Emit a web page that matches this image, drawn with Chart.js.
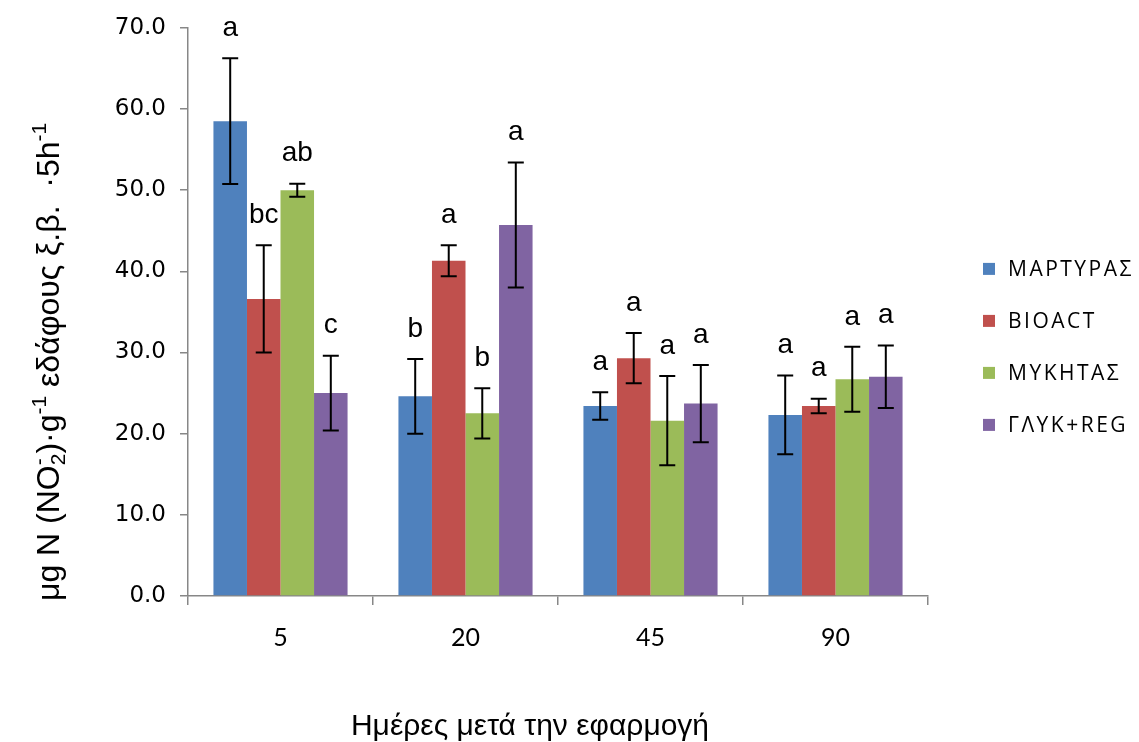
<!DOCTYPE html>
<html>
<head>
<meta charset="utf-8">
<script src="https://cdn.jsdelivr.net/npm/chart.js@4.4.1/dist/chart.umd.min.js"></script>
<style>
  html, body { margin: 0; padding: 0; background: #ffffff; }
  #wrap { width: 1139px; height: 742px; }
</style>
</head>
<body>
<div id="wrap"><canvas id="chart" width="1139" height="742"></canvas></div>
<script>
// Days after application (categories)
const days = ['5', '20', '45', '90'];

// Treatment names
const seriesNames = ['ΜΑΡΤΥΡΑΣ', 'BIOACT', 'ΜΥΚΗΤΑΣ', 'ΓΛΥΚ+REG'];

// Mean values, μg N (NO2-) per g soil dry weight per 5 h
const martyras = [58.5, 24.6, 23.4, 22.3];
const bioact   = [36.6, 41.3, 29.3, 23.4];
const mykitas  = [50.0, 22.5, 21.6, 26.7];
const glyk     = [25.0, 45.7, 23.7, 27.0];

// Error bar half-lengths
const martyrasErr = [7.75, 4.6, 1.7, 4.85];
const bioactErr   = [6.6, 1.9, 3.1, 0.9];
const mykitasErr  = [0.8, 3.1, 5.5, 4.0];
const glykErr     = [4.6, 7.7, 4.75, 3.85];

// Significance letters
const martyrasSig = ['a', 'b', 'a', 'a'];
const bioactSig   = ['bc', 'a', 'a', 'a'];
const mykitasSig  = ['ab', 'b', 'a', 'a'];
const glykSig     = ['c', 'a', 'a', 'a'];

// Y axis ticks
const yMin = 0, yMax = 70, yStep = 10;

// Axis titles
const xTitle = 'Ημέρες μετά την εφαρμογή';

const colors = ['#4F81BD', '#C0504D', '#9BBB59', '#8064A2'];
const axisGray = '#878787';

const values = [martyras, bioact, mykitas, glyk];
const errors = [martyrasErr, bioactErr, mykitasErr, glykErr];
const letters = [martyrasSig, bioactSig, mykitasSig, glykSig];

// Error bars and letters above each bar
const errorBarPlugin = {
  id: 'errorBars',
  afterDatasetsDraw(chart) {
    const ctx = chart.ctx;
    const y = chart.scales.y;
    ctx.save();
    chart.data.datasets.forEach((ds, i) => {
      const meta = chart.getDatasetMeta(i);
      meta.data.forEach((bar, j) => {
        const v = ds.data[j];
        const e = ds.errors[j];
        const top = y.getPixelForValue(v + e);
        const bot = y.getPixelForValue(v - e);
        const x = bar.x;
        ctx.strokeStyle = '#000000';
        ctx.lineWidth = 2;
        ctx.beginPath();
        ctx.moveTo(x, top); ctx.lineTo(x, bot);
        ctx.moveTo(x - 8, top); ctx.lineTo(x + 8, top);
        ctx.moveTo(x - 8, bot); ctx.lineTo(x + 8, bot);
        ctx.stroke();
        ctx.fillStyle = '#000000';
        ctx.font = '28px "Liberation Sans", Arial, sans-serif';
        ctx.textAlign = 'center';
        ctx.textBaseline = 'middle';
        ctx.fillText(ds.letters[j], x, top - 30);
      });
    });
    ctx.restore();
  }
};

// Axis titles: rotated y title with sub- and superscripts, x title below the ticks
const axisTitlePlugin = {
  id: 'axisTitles',
  afterDraw(chart) {
    const ctx = chart.ctx;
    const area = chart.chartArea;
    const size = 32;
    const base = size + 'px "Liberation Sans", Arial, sans-serif';
    const small = Math.round(size * 0.65) + 'px "Liberation Sans", Arial, sans-serif';
    const parts = [
      { t: 'μg N (NO' },
      { t: '2', sub: true, stackWith: '-' },
      { t: ')·g' },
      { t: '-1', sup: true },
      { t: ' εδάφους ξ.β.  ·5h' },
      { t: '-1', sup: true }
    ];
    ctx.save();
    const widthOf = p => {
      ctx.font = (p.sub || p.sup) ? small : base;
      let w = ctx.measureText(p.t).width;
      if (p.stackWith) w = Math.max(w, ctx.measureText(p.stackWith).width);
      return w;
    };
    const total = parts.reduce((s, p) => s + widthOf(p), 0);
    const cy = (area.top + area.bottom) / 2 + 50;
    ctx.translate(47, cy);
    ctx.rotate(-Math.PI / 2);
    ctx.fillStyle = '#000000';
    ctx.textBaseline = 'alphabetic';
    ctx.textAlign = 'left';
    let x = -total / 2;
    const baseY = size * 0.36;
    parts.forEach(p => {
      const w = widthOf(p);
      if (p.sub) {
        ctx.font = small;
        ctx.fillText(p.t, x, baseY + size * 0.2);
        if (p.stackWith) ctx.fillText(p.stackWith, x, baseY - size * 0.38);
      } else if (p.sup) {
        ctx.font = small;
        ctx.fillText(p.t, x, baseY - size * 0.38);
      } else {
        ctx.font = base;
        ctx.fillText(p.t, x, baseY);
      }
      x += w;
    });
    ctx.restore();

    ctx.save();
    ctx.font = '30px "Liberation Sans", Arial, sans-serif';
    ctx.fillStyle = '#000000';
    ctx.textAlign = 'center';
    ctx.textBaseline = 'middle';
    ctx.fillText(xTitle, (area.left + area.right) / 2 - 28, area.bottom + 131);
    ctx.restore();
  }
};

// Legend to the right of the plot
const sideLegendPlugin = {
  id: 'sideLegend',
  afterDraw(chart) {
    const ctx = chart.ctx;
    const area = chart.chartArea;
    const cx = area.right + 55;
    const midY = (area.top + area.bottom) / 2 + 35;
    const rowGap = 52;
    ctx.save();
    ctx.font = '21px "Open Sans", "DejaVu Sans", sans-serif';
    if ('letterSpacing' in ctx) ctx.letterSpacing = '2.5px';
    ctx.textBaseline = 'middle';
    ctx.textAlign = 'left';
    const n = chart.data.datasets.length;
    chart.data.datasets.forEach((ds, i) => {
      const yy = midY + (i - (n - 1) / 2) * rowGap;
      ctx.fillStyle = ds.backgroundColor;
      ctx.fillRect(cx, yy - 6, 12, 12);
      ctx.fillStyle = '#000000';
      ctx.fillText(ds.label, cx + 25, yy + 1);
    });
    ctx.restore();
  }
};

Chart.defaults.font.family = '"Liberation Sans", Arial, sans-serif';
Chart.defaults.color = '#000000';

new Chart(document.getElementById('chart'), {
  type: 'bar',
  data: {
    labels: days,
    datasets: seriesNames.map((name, i) => ({
      label: name,
      data: values[i],
      errors: errors[i],
      letters: letters[i],
      backgroundColor: colors[i],
      borderWidth: 0,
      categoryPercentage: 0.725,
      barPercentage: 1.0
    }))
  },
  options: {
    responsive: false,
    devicePixelRatio: 1,
    animation: false,
    layout: { padding: { left: 0, right: 211, top: 25, bottom: 89 } },
    plugins: {
      legend: { display: false },
      tooltip: { enabled: false }
    },
    scales: {
      x: {
        afterFit(scale) { scale.height = 57; },
        grid: {
          offset: true,
          drawOnChartArea: false,
          drawTicks: true,
          tickLength: 9,
          color: axisGray,
          lineWidth: 1.5
        },
        border: { display: true, color: axisGray, width: 1.5 },
        ticks: {
          font: { family: 'Lato, "Open Sans", sans-serif', size: 25 },
          color: '#000000',
          padding: 18
        }
      },
      y: {
        min: yMin,
        max: yMax,
        afterFit(scale) { scale.width = 188; },
        grid: {
          drawOnChartArea: false,
          drawTicks: true,
          tickLength: 8,
          color: axisGray,
          lineWidth: 1.5
        },
        border: { display: true, color: axisGray, width: 1.5 },
        ticks: {
          stepSize: yStep,
          padding: 14,
          font: { family: '"DejaVu Sans", Verdana, sans-serif', size: 23 },
          color: '#000000',
          callback: v => Number(v).toFixed(1)
        }
      }
    }
  },
  plugins: [errorBarPlugin, axisTitlePlugin, sideLegendPlugin]
});
</script>
</body>
</html>
